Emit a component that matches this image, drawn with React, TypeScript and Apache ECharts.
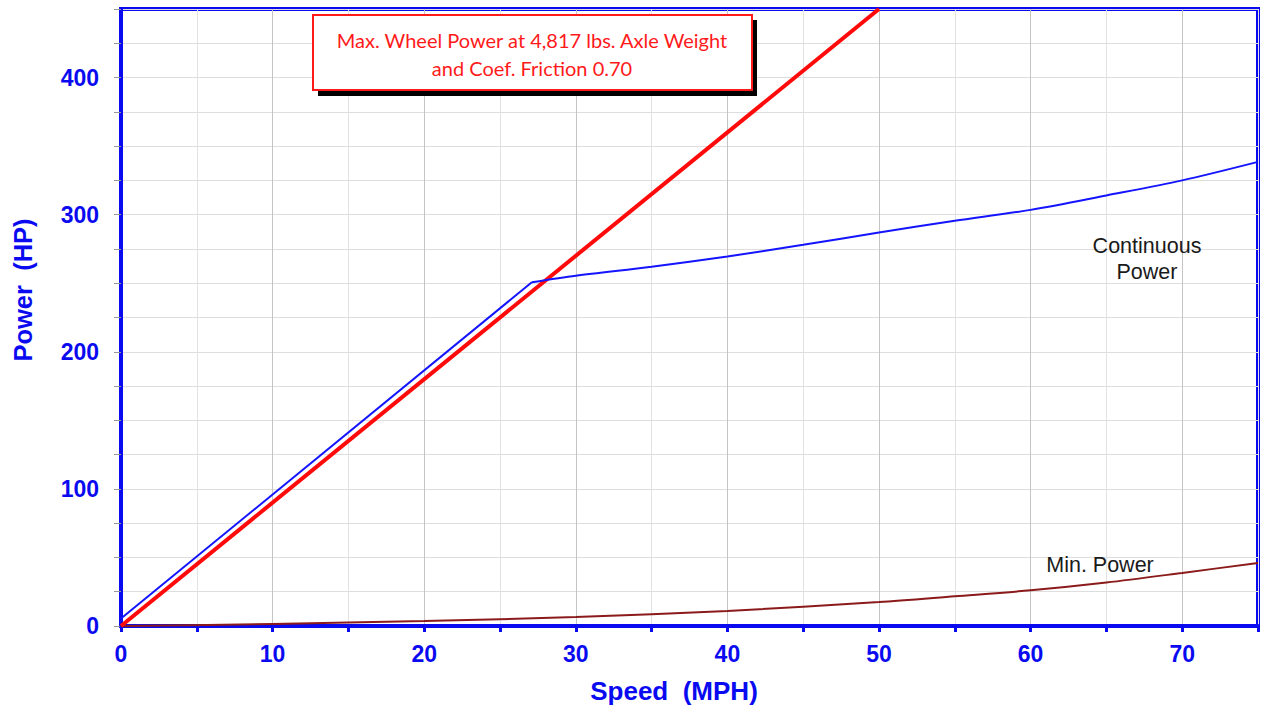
import React, { useEffect, useRef } from "react";
import * as echarts from "echarts";

const maxWheelPower: [number, number][] = [
  [0, 0],
  [50, 450],
];
const continuousPowerLinear: [number, number][] = [
  [0, 5.4],
  [27.1, 250.7],
];
const continuousPowerCurve: [number, number][] = [
  [27.1, 250.7],
  [30, 255.5],
  [35, 262],
  [40, 269.5],
  [45, 278],
  [50, 287],
  [55, 295.5],
  [60, 303.5],
  [65, 314],
  [70, 325],
  [75, 338.5],
];
const minPower: [number, number][] = [
  [0, 0],
  [10, 1.5],
  [20, 3.6],
  [30, 6.6],
  [40, 11],
  [50, 17.5],
  [55, 21.7],
  [60, 26],
  [65, 31.7],
  [70, 38.7],
  [75, 46],
];
const xLabels = [0, 10, 20, 30, 40, 50, 60, 70];
const yLabels = [0, 100, 200, 300, 400];
const boxText = "Max. Wheel Power at 4,817 lbs. Axle Weight\nand Coef. Friction 0.70";

const BLUE = "#0a0af0";
const AXIS_FONT = "'Liberation Sans', Arial, sans-serif";

export default function App() {
  const ref = useRef<HTMLDivElement>(null);
  useEffect(() => {
    if (!ref.current) return;
    const chart = echarts.init(ref.current, null, { renderer: "svg" });
    chart.setOption({
      animation: false,
      backgroundColor: "#ffffff",
      grid: {
        left: 121,
        right: 2,
        top: 9,
        bottom: 83,
        show: true,
        borderColor: BLUE,
        borderWidth: 4,
        backgroundColor: "transparent",
      },
      xAxis: {
        type: "value",
        min: 0,
        max: 75,
        interval: 5,
        axisLine: { show: true, onZero: false, lineStyle: { color: BLUE, width: 4 } },
        axisTick: { show: true, length: 6, lineStyle: { color: BLUE, width: 3 } },
        splitLine: { show: true, lineStyle: { color: ["#c4c4c4", "#e2e2e2"], width: 1 } },
        axisLabel: {
          margin: 16,
          color: BLUE,
          fontSize: 23,
          fontWeight: "bold",
          fontFamily: AXIS_FONT,
          formatter: (v: number) => (xLabels.includes(v) ? String(v) : ""),
        },
      },
      yAxis: {
        type: "value",
        min: 0,
        max: 450,
        interval: 25,
        axisLine: { show: true, onZero: false, lineStyle: { color: BLUE, width: 4 } },
        axisTick: { show: true, length: 7, lineStyle: { color: "#999999", width: 1 } },
        splitLine: { show: true, lineStyle: { color: "#dedede", width: 1 } },
        axisLabel: {
          margin: 22,
          color: BLUE,
          fontSize: 23,
          fontWeight: "bold",
          fontFamily: AXIS_FONT,
          formatter: (v: number) => (yLabels.includes(v) ? String(v) : ""),
        },
      },
      series: [
        {
          name: "Min. Power",
          type: "line",
          data: minPower,
          symbol: "none",
          smooth: 0.3,
          lineStyle: { color: "#8b1a1a", width: 2 },
          clip: true,
          z: 3,
        },
        {
          name: "Continuous Power",
          type: "line",
          data: continuousPowerLinear,
          symbol: "none",
          lineStyle: { color: "#1414ff", width: 2 },
          clip: true,
          z: 4,
        },
        {
          name: "Continuous Power (curve)",
          type: "line",
          data: continuousPowerCurve,
          symbol: "none",
          smooth: 0.3,
          lineStyle: { color: "#1414ff", width: 2 },
          clip: true,
          z: 4,
        },
        {
          name: "Max. Wheel Power",
          type: "line",
          data: maxWheelPower,
          symbol: "none",
          lineStyle: { color: "#ff0a0a", width: 4 },
          clip: true,
          z: 3,
        },
      ],
      graphic: [
        {
          type: "rect",
          shape: { x: 318, y: 20, width: 439, height: 76 },
          style: { fill: "#000000" },
          z: 100,
        },
        {
          type: "rect",
          shape: { x: 313, y: 15, width: 439, height: 75 },
          style: { fill: "#ffffff", stroke: "#ff1a1a", lineWidth: 2 },
          z: 101,
        },
        {
          type: "text",
          x: 532,
          y: 54,
          z: 102,
          style: {
            text: boxText,
            fill: "#ff1a1a",
            font: "20px Lato, 'Open Sans', sans-serif",
            lineHeight: 28,
            align: "center",
            verticalAlign: "middle",
          },
        },
        {
          type: "text",
          x: 1147,
          y: 259,
          z: 102,
          style: {
            text: "Continuous\nPower",
            fill: "#1a1a1a",
            font: "21.5px 'Liberation Sans', Arial, sans-serif",
            lineHeight: 26,
            align: "center",
            verticalAlign: "middle",
          },
        },
        {
          type: "text",
          x: 1100,
          y: 565,
          z: 102,
          style: {
            text: "Min. Power",
            fill: "#1a1a1a",
            font: "21.5px 'Liberation Sans', Arial, sans-serif",
            align: "center",
            verticalAlign: "middle",
          },
        },
        {
          type: "text",
          x: 674,
          y: 691,
          z: 102,
          style: {
            text: "Speed  (MPH)",
            fill: BLUE,
            font: "bold 26px 'Liberation Sans', Arial, sans-serif",
            align: "center",
            verticalAlign: "middle",
          },
        },
        {
          type: "text",
          x: 23,
          y: 290,
          rotation: Math.PI / 2,
          z: 102,
          style: {
            text: "Power  (HP)",
            fill: BLUE,
            font: "bold 25.5px 'Liberation Sans', Arial, sans-serif",
            align: "center",
            verticalAlign: "middle",
          },
        },
      ],
    });
    return () => chart.dispose();
  }, []);
  return (
    <div
      ref={ref}
      style={{ position: "absolute", left: 0, top: 0, width: 1261, height: 709 }}
    />
  );
}
